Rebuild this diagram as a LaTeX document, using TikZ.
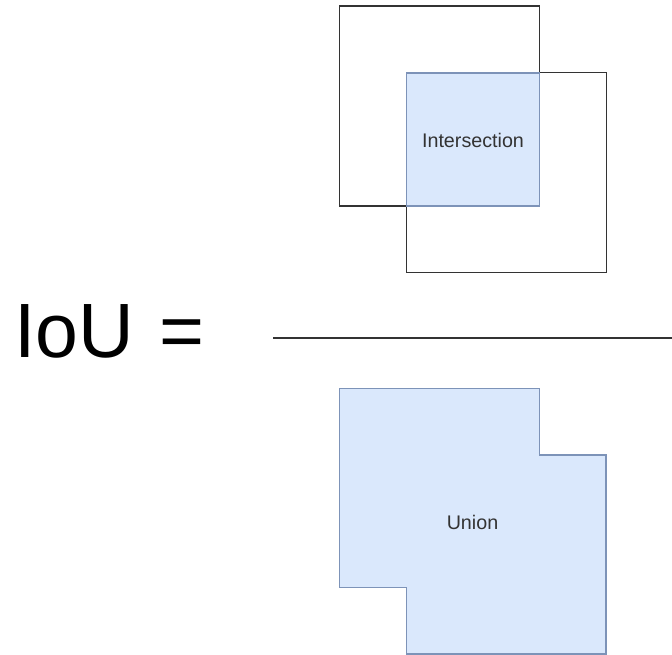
\documentclass[tikz,border=0pt]{standalone}
\usepackage{fontspec}
\setmainfont{Liberation Sans}
\definecolor{boxline}{HTML}{333333}
\definecolor{bluefill}{HTML}{DAE8FC}
\definecolor{blueline}{HTML}{7D93B8}
\definecolor{labeltext}{HTML}{333333}
\begin{document}
\begin{tikzpicture}[x=1pt,y=-1pt,
  sqbox/.style={draw=boxline,line width=1.4pt,minimum width=200pt,minimum height=200pt,inner sep=0pt},
  bluebox/.style={draw=blueline,fill=bluefill,line width=1.1pt},
  lbl/.style={font=\fontsize{19.7}{22}\selectfont,text=labeltext}]
\useasboundingbox (0,0) rectangle (672,655);
% two overlapping boxes
\node[sqbox] (boxA) at (439.5,106) {};
\node[sqbox] (boxB) at (506.3,172.5) {};
\node[bluebox,minimum width=133pt,minimum height=133pt,inner sep=0pt] (inter) at (473,139.5) {};
\node[lbl] (intertext) at (473,140) {Intersection};
% IoU =
\node[font=\fontsize{77}{80}\selectfont,anchor=base west,inner sep=0pt] (iou) at (14,357) {IoU\hspace{4pt} =};
% fraction line
\coordinate (lineL) at (273,338);
\coordinate (lineR) at (672,338);
\draw[boxline,line width=1.4pt] (lineL) -- (lineR);
% union shape
\draw[bluebox] (339.5,388.3) -- (539.5,388.3) -- (539.5,455) -- (606,455) -- (606,654)
  -- (406.7,654) -- (406.7,587.7) -- (339.5,587.7) -- cycle;
\node[lbl] (union) at (472.5,522) {Union};
\end{tikzpicture}
\end{document}
